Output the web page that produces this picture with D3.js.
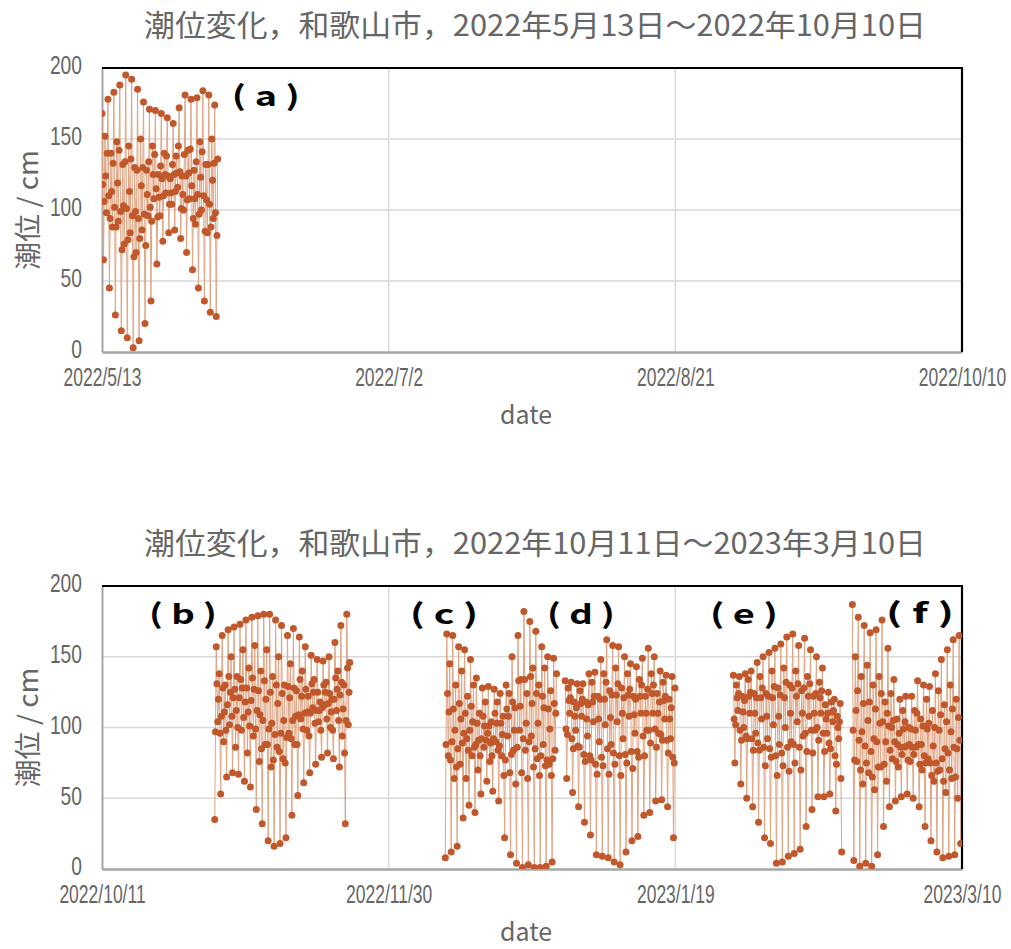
<!DOCTYPE html>
<html>
<head>
<meta charset="utf-8">
<script src="https://cdn.jsdelivr.net/npm/d3@7"></script>
<style>
  body { margin: 0; background: #fff; }
  text { font-family: "Noto Sans CJK JP", "Noto Sans", sans-serif; }
</style>
</head>
<body>
<svg id="chart"></svg>
<script>
// titles and tick labels
const titleTop = "潮位変化，和歌山市，2022年5月13日～2022年10月10日";
const titleBottom = "潮位変化，和歌山市，2022年10月11日～2023年3月10日";
const yLabel = "潮位 / cm";
const xLabel = "date";
const yTicks = [0, 50, 100, 150, 200];
const xTicksTop = ["2022-05-13", "2022-07-02", "2022-08-21", "2022-10-10"];
const xTicksBottom = ["2022-10-11", "2022-11-30", "2023-01-19", "2023-03-10"];

// tide readings (cm), one reading every 3.105 h from the start time
// (turning points with one reading between each pair)
const stepHours = 3.105;
const startA = "2022-05-13T00:00";
const tideA = [
  168, 118, 65, 106, 152, 124, 98, 140, 178, 110, 45, 94, 140, 113, 88, 133,
  183, 102, 26, 88, 148, 119, 92, 142, 188, 99, 15, 72, 132, 103, 76, 134,
  195, 101, 10, 79, 145, 113, 84, 136, 192, 96, 3, 67, 130, 99, 70, 128,
  185, 94, 8, 80, 150, 117, 86, 130, 176, 97, 20, 75, 128, 111, 96, 134,
  171, 102, 36, 92, 145, 125, 108, 139, 170, 115, 62, 95, 125, 109, 96, 131,
  168, 122, 78, 110, 140, 125, 112, 138, 165, 124, 84, 104, 122, 112, 104, 132,
  161, 125, 86, 113, 138, 126, 116, 145, 172, 127, 80, 101, 124, 111, 100, 139,
  181, 124, 70, 107, 142, 126, 108, 143, 178, 117, 58, 94, 128, 108, 90, 134,
  179, 111, 45, 97, 148, 123, 100, 141, 184, 110, 36, 85, 132, 107, 84, 132,
  181, 104, 28, 88, 150, 121, 94, 133, 174, 98, 25, 82, 136
];
const startB = "2022-10-30T16:00";
const tideB = [
  35, 97, 157, 131, 104, 120, 138, 96, 53, 108, 165, 128, 90, 111, 130, 98,
  65, 116, 169, 136, 102, 125, 150, 108, 68, 121, 171, 127, 86, 112, 136, 100,
  67, 121, 173, 134, 98, 128, 155, 107, 62, 118, 176, 128, 82, 111, 142, 101,
  58, 119, 178, 135, 94, 127, 158, 99, 42, 112, 179, 126, 76, 109, 140, 85,
  32, 105, 180, 133, 88, 120, 155, 88, 20, 99, 180, 125, 72, 103, 136, 77,
  16, 95, 176, 130, 86, 117, 150, 83, 18, 96, 172, 124, 78, 105, 130, 75,
  22, 93, 165, 129, 96, 121, 145, 92, 38, 105, 170, 128, 88, 108, 126, 88,
  52, 109, 164, 134, 106, 122, 140, 99, 61, 110, 157, 127, 98, 111, 122, 94,
  68, 110, 151, 131, 114, 125, 134, 103, 74, 112, 148, 125, 104, 112, 118, 98,
  79, 114, 147, 130, 116, 125, 132, 106, 82, 117, 150, 124, 100, 111, 120, 98,
  78, 120, 160, 135, 112, 127, 140, 105, 72, 123, 172, 132, 94, 113, 130, 82,
  32, 105, 180, 142, 102, 125, 146
];
const startC = "2022-12-09T21:00";
const tideC = [
  8, 88, 166, 124, 80, 111, 145, 77, 12, 90, 165, 113, 64, 98, 130, 72,
  16, 85, 157, 117, 74, 106, 140, 89, 36, 96, 155, 110, 64, 92, 122, 84,
  45, 98, 148, 115, 80, 104, 130, 86, 40, 88, 135, 103, 70, 91, 110, 80,
  53, 92, 128, 108, 86, 101, 118, 91, 62, 96, 129, 101, 76, 89, 104, 80,
  55, 92, 127, 110, 90, 103, 118, 84, 48, 87, 124, 103, 80, 95, 108, 66,
  22, 77, 130, 113, 94, 108, 124, 68, 10, 81, 150, 118, 84, 98, 114, 60,
  4, 86, 165, 133, 98, 115, 134, 68, 1, 92, 182, 134, 84, 103, 124, 64,
  3, 90, 175, 136, 94, 117, 142, 72, 1, 85, 168, 124, 78, 103, 130, 66,
  1, 80, 157, 122, 88, 114, 142, 73, 2, 77, 150, 113, 74, 99, 126, 66,
  5, 78, 149, 117, 84, 110, 138
];
const startD = "2022-12-30T19:00";
const tideD = [
  133, 99, 64, 95, 128, 119, 110, 121, 132, 92, 54, 85, 118, 108, 98, 114,
  131, 87, 44, 86, 126, 117, 108, 120, 131, 81, 33, 76, 118, 106, 94, 116,
  138, 80, 24, 77, 132, 118, 104, 122, 139, 74, 10, 67, 122, 106, 90, 120,
  148, 79, 9, 73, 138, 120, 102, 132, 162, 85, 8, 67, 126, 107, 88, 123,
  158, 82, 5, 74, 142, 123, 104, 131, 157, 80, 3, 66, 128, 110, 92, 121,
  150, 81, 12, 75, 138, 123, 108, 127, 145, 83, 20, 71, 122, 109, 96, 120,
  143, 83, 23, 79, 134, 122, 110, 130, 149, 94, 38, 80, 122, 110, 98, 127,
  156, 98, 40, 89, 138, 124, 110, 130, 150, 99, 48, 86, 124, 110, 96, 118,
  140, 95, 49, 91, 132, 119, 106, 122, 137, 91, 44, 82, 120, 106, 92, 114,
  136, 79, 22, 75, 128
];
const startE = "2023-01-29T03:00";
const tideE = [
  137, 106, 75, 102, 130, 121, 112, 124, 136, 98, 60, 91, 122, 111, 100, 119,
  138, 94, 50, 92, 134, 122, 110, 125, 140, 92, 44, 84, 124, 110, 96, 121,
  146, 89, 33, 84, 136, 121, 106, 128, 150, 86, 22, 73, 124, 108, 92, 122,
  153, 85, 18, 79, 140, 121, 102, 129, 156, 80, 4, 66, 128, 108, 88, 123,
  159, 82, 5, 73, 142, 121, 100, 132, 164, 86, 9, 69, 130, 110, 90, 128,
  166, 88, 11, 75, 140, 122, 104, 131, 158, 86, 14, 70, 126, 110, 94, 128,
  163, 96, 30, 83, 136, 122, 108, 131, 155, 98, 42, 82, 122, 110, 98, 124,
  150, 100, 51, 91, 132, 121, 110, 126, 142, 96, 51, 83, 116, 106, 96, 110,
  125, 89, 53, 85, 118, 111, 104, 112, 120, 80, 41, 74, 108, 100, 92, 104,
  117, 64, 12
];
const startF = "2023-02-18T21:00";
const tideF = [
  187, 98, 6, 77, 150, 112, 76, 126, 178, 91, 2, 70, 136, 97, 60, 117,
  172, 87, 4, 75, 144, 105, 68, 118, 167, 83, 2, 65, 130, 92, 56, 113,
  169, 90, 10, 72, 136, 103, 72, 124, 176, 104, 30, 74, 118, 90, 62, 110,
  156, 101, 44, 84, 124, 100, 78, 105, 134, 90, 48, 76, 106, 88, 72, 96,
  120, 86, 51, 81, 112, 99, 86, 104, 122, 87, 53, 77, 100, 88, 76, 99,
  122, 86, 50, 81, 112, 98, 86, 110, 133, 88, 44, 74, 106, 88, 70, 101,
  130, 80, 30, 75, 120, 99, 78, 103, 129, 75, 20, 66, 112, 87, 62, 100,
  138, 75, 12, 69, 126, 98, 70, 109, 148, 78, 8, 62, 116, 85, 54, 104,
  155, 82, 9, 70, 130, 97, 64, 113, 162, 86, 10, 65, 120, 85, 50, 107,
  165, 91, 18
];

// panel tags, anchored at a date and a level
const tagsTop = [{ text: "( a )", date: "2022-06-10T14:00", value: 180 }];
const tagsBottom = [
  { text: "( b )", date: "2022-10-25T03:00", value: 180 },
  { text: "( c )", date: "2022-12-09T16:00", value: 180 },
  { text: "( d )", date: "2023-01-02T13:00", value: 180 },
  { text: "( e )", date: "2023-01-30T23:00", value: 180 },
  { text: "( f )", date: "2023-03-02T16:00", value: 181 }
];

const parseTime = d3.utcParse("%Y-%m-%dT%H:%M");
const parseDay = d3.utcParse("%Y-%m-%d");

function toSeries(start, values) {
  const t0 = parseTime(start).getTime();
  return values.map((v, i) => ({ t: new Date(t0 + i * stepHours * 3600e3), v: v }));
}

const svgWidth = 1011;
const svgHeight = 949;
const colorDot = "#C0582B";
const colorLine = "#DFA584";
const colorText = "#666666";
const tickFont = "\"Liberation Sans\", Arial, sans-serif";

const svg = d3.select("#chart")
  .attr("width", svgWidth)
  .attr("height", svgHeight);

const panels = [
  { id: "a", top: 68, bottom: 352, title: titleTop, ticks: xTicksTop,
    series: [toSeries(startA, tideA)], tags: tagsTop },
  { id: "b", top: 586, bottom: 869, title: titleBottom, ticks: xTicksBottom,
    series: [toSeries(startB, tideB), toSeries(startC, tideC), toSeries(startD, tideD),
             toSeries(startE, tideE), toSeries(startF, tideF)], tags: tagsBottom }
];

panels.forEach(p => DrawPanel(p));

function DrawPanel(p) {
  const left = 102;
  const right = 962;
  const tickDates = p.ticks.map(parseDay);

  const x = d3.scaleUtc()
    .domain([tickDates[0], tickDates[tickDates.length - 1]])
    .range([left, right]);
  const y = d3.scaleLinear()
    .domain([0, 200])
    .range([p.bottom, p.top]);

  const g = svg.append("g");

  // title
  g.append("text")
    .attr("x", (left + right) / 2 + 3)
    .attr("y", p.top - 43)
    .attr("dy", "0.36em")
    .attr("text-anchor", "middle")
    .attr("font-size", "30px")
    .attr("fill", colorText)
    .attr("textLength", 782)
    .attr("lengthAdjust", "spacingAndGlyphs")
    .text(p.title);

  // grid lines
  g.append("g")
    .selectAll("line")
    .data(yTicks.slice(1, -1))
    .join("line")
    .attr("x1", left).attr("x2", right)
    .attr("y1", d => y(d)).attr("y2", d => y(d))
    .attr("stroke", "#D9D9D9")
    .attr("stroke-width", 1.5);
  g.append("g")
    .selectAll("line")
    .data(tickDates.slice(1, -1))
    .join("line")
    .attr("x1", d => x(d)).attr("x2", d => x(d))
    .attr("y1", p.top).attr("y2", p.bottom)
    .attr("stroke", "#D9D9D9")
    .attr("stroke-width", 1.5);

  // axes (labels squeezed to the narrow look of the original)
  const yAxis = g.append("g")
    .attr("transform", `translate(${left},0)`)
    .call(d3.axisLeft(y).tickValues(yTicks).tickSize(0).tickPadding(0));
  yAxis.select(".domain").attr("stroke", "#A6A6A6").attr("stroke-width", 2);
  yAxis.selectAll("text")
    .attr("x", 0)
    .attr("transform", "translate(-20,-2.5) scale(0.74,1)")
    .attr("font-size", "26px")
    .attr("fill", colorText)
    .style("font-family", tickFont);

  const xAxis = g.append("g")
    .attr("transform", `translate(0,${p.bottom})`)
    .call(d3.axisBottom(x).tickValues(tickDates).tickSize(0).tickPadding(16)
      .tickFormat(d3.utcFormat("%Y/%-m/%-d")));
  xAxis.select(".domain").attr("stroke", "#A6A6A6").attr("stroke-width", 2.5);
  xAxis.selectAll("text")
    .attr("transform", "scale(0.7,1)")
    .attr("font-size", "25px")
    .attr("fill", colorText)
    .style("font-family", tickFont);

  // frame: top and right in black
  g.append("path")
    .attr("d", `M${left},${p.top}H${right}V${p.bottom}`)
    .attr("fill", "none")
    .attr("stroke", "#000")
    .attr("stroke-width", 2.2);

  // axis titles
  g.append("text")
    .attr("x", (left + right) / 2 - 6)
    .attr("y", p.bottom + 63)
    .attr("dy", "0.36em")
    .attr("text-anchor", "middle")
    .attr("font-size", "25px")
    .attr("fill", colorText)
    .attr("textLength", 52)
    .attr("lengthAdjust", "spacingAndGlyphs")
    .text(xLabel);

  g.append("text")
    .attr("transform", `translate(28,${(p.top + p.bottom) / 2}) rotate(-90)`)
    .attr("dy", "0.36em")
    .attr("text-anchor", "middle")
    .attr("font-size", "27px")
    .attr("fill", colorText)
    .attr("textLength", 120)
    .attr("lengthAdjust", "spacingAndGlyphs")
    .text(yLabel);

  // data
  const clipId = "clip-" + p.id;
  g.append("clipPath").attr("id", clipId)
    .append("rect")
    .attr("x", left).attr("y", p.top)
    .attr("width", right - left).attr("height", p.bottom - p.top);

  const plot = g.append("g").attr("clip-path", `url(#${clipId})`);
  const line = d3.line().x(d => x(d.t)).y(d => y(d.v));

  p.series.forEach(s => {
    plot.append("path")
      .datum(s)
      .attr("d", line)
      .attr("fill", "none")
      .attr("stroke", colorLine)
      .attr("stroke-width", 1);
    plot.append("g")
      .selectAll("circle")
      .data(s)
      .join("circle")
      .attr("cx", d => x(d.t))
      .attr("cy", d => y(d.v))
      .attr("r", 3.5)
      .attr("fill", colorDot);
  });

  // panel tags
  g.append("g")
    .selectAll("text")
    .data(p.tags)
    .join("text")
    .attr("x", d => x(parseTime(d.date)))
    .attr("y", d => y(d.value))
    .attr("dy", "0.36em")
    .attr("text-anchor", "middle")
    .attr("font-size", "27px")
    .attr("font-weight", "bold")
    .attr("fill", "#000")
    .attr("textLength", 68)
    .attr("lengthAdjust", "spacingAndGlyphs")
    .text(d => d.text);
}
</script>
</body>
</html>
